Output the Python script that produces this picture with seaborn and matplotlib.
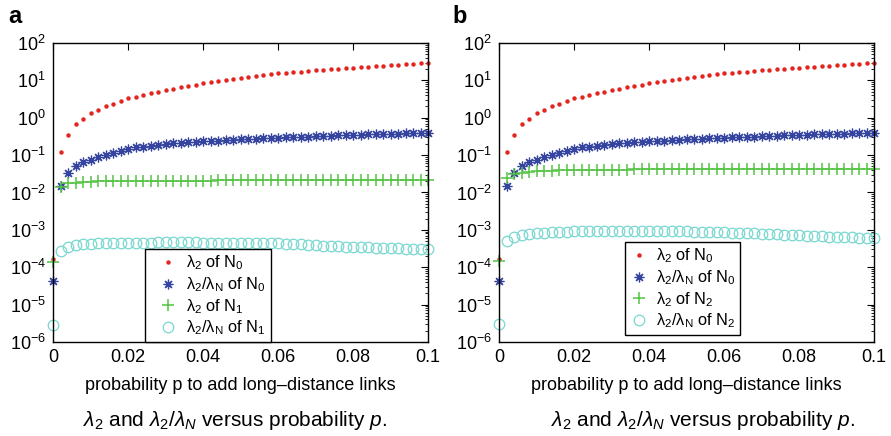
import numpy as np
import pandas as pd
import seaborn as sns
import matplotlib
matplotlib.use("Agg")
import matplotlib.pyplot as plt
from matplotlib.ticker import LogLocator, NullFormatter, NullLocator

# ---------------- data ----------------
p_values = [0.000, 0.002, 0.004, 0.006, 0.008, 0.010, 0.012, 0.014, 0.016, 0.018,
            0.020, 0.022, 0.024, 0.026, 0.028, 0.030, 0.032, 0.034, 0.036, 0.038,
            0.040, 0.042, 0.044, 0.046, 0.048, 0.050, 0.052, 0.054, 0.056, 0.058,
            0.060, 0.062, 0.064, 0.066, 0.068, 0.070, 0.072, 0.074, 0.076, 0.078,
            0.080, 0.082, 0.084, 0.086, 0.088, 0.090, 0.092, 0.094, 0.096, 0.098,
            0.100]

lam2_N0 = [1.7e-4, 0.12, 0.35, 0.66, 0.95, 1.3, 1.65, 2.0, 2.4, 2.85,
           3.3, 3.7, 4.1, 4.6, 5.0, 5.5, 6.0, 6.6, 7.1, 7.7,
           8.3, 8.9, 9.6, 10.2, 10.9, 11.6, 12.3, 13.0, 13.8, 14.6,
           15.4, 16.0, 16.6, 17.2, 17.8, 18.4, 19.0, 19.6, 20.3, 21.0,
           21.8, 22.5, 23.2, 23.9, 24.6, 25.3, 26.0, 26.8, 27.6, 28.5,
           29.5]

ratio_N0 = [4.3e-5, 0.0150, 0.033, 0.052, 0.064, 0.076, 0.088, 0.099, 0.112, 0.127,
            0.150, 0.160, 0.169, 0.178, 0.188, 0.197, 0.205, 0.212, 0.219, 0.226,
            0.233, 0.239, 0.245, 0.251, 0.257, 0.263, 0.269, 0.275, 0.281, 0.287,
            0.293, 0.299, 0.304, 0.310, 0.315, 0.320, 0.326, 0.331, 0.336, 0.342,
            0.347, 0.352, 0.357, 0.362, 0.368, 0.373, 0.378, 0.384, 0.389, 0.394,
            0.400]

lam2_N1 = [1.4e-4, 0.0143, 0.0176, 0.0184, 0.0190, 0.0194, 0.0197, 0.0199, 0.0201, 0.0202,
           0.0203, 0.0204, 0.0205, 0.0206, 0.0206, 0.0207, 0.0207, 0.0208, 0.0208, 0.0209,
           0.0209, 0.0209, 0.0210, 0.0210, 0.0210, 0.0211, 0.0211, 0.0211, 0.0211, 0.0212,
           0.0212, 0.0212, 0.0212, 0.0213, 0.0213, 0.0213, 0.0213, 0.0213, 0.0214, 0.0214,
           0.0214, 0.0214, 0.0214, 0.0215, 0.0215, 0.0215, 0.0215, 0.0215, 0.0216, 0.0216,
           0.0216]

ratio_N1 = [2.8e-6, 2.7e-4, 3.5e-4, 3.9e-4, 4.1e-4, 4.25e-4, 4.35e-4, 4.4e-4, 4.45e-4, 4.5e-4,
            4.52e-4, 4.55e-4, 4.57e-4, 4.58e-4, 4.6e-4, 4.6e-4, 4.6e-4, 4.6e-4, 4.6e-4, 4.6e-4,
            4.58e-4, 4.57e-4, 4.55e-4, 4.53e-4, 4.51e-4, 4.49e-4, 4.47e-4, 4.45e-4, 4.43e-4, 4.41e-4,
            4.38e-4, 4.3e-4, 4.2e-4, 4.1e-4, 4.0e-4, 3.9e-4, 3.8e-4, 3.72e-4, 3.64e-4, 3.57e-4,
            3.5e-4, 3.44e-4, 3.38e-4, 3.33e-4, 3.28e-4, 3.23e-4, 3.18e-4, 3.14e-4, 3.1e-4, 3.07e-4,
            3.05e-4]

lam2_N2 = [1.5e-4, 0.025, 0.031, 0.034, 0.036, 0.037, 0.038, 0.0385, 0.039, 0.0395,
           0.0398, 0.0401, 0.0403, 0.0405, 0.0407, 0.0409, 0.0411, 0.0412, 0.0413, 0.0414,
           0.0415, 0.0416, 0.0417, 0.0418, 0.0419, 0.0420, 0.0420, 0.0421, 0.0421, 0.0422,
           0.0422, 0.0423, 0.0423, 0.0423, 0.0424, 0.0424, 0.0424, 0.0425, 0.0425, 0.0425,
           0.0426, 0.0426, 0.0426, 0.0427, 0.0427, 0.0427, 0.0428, 0.0428, 0.0428, 0.0429,
           0.0429]

ratio_N2 = [3.0e-6, 4.9e-4, 6.3e-4, 7.2e-4, 7.8e-4, 8.2e-4, 8.5e-4, 8.7e-4, 8.85e-4, 8.95e-4,
            9.05e-4, 9.1e-4, 9.15e-4, 9.2e-4, 9.25e-4, 9.28e-4, 9.3e-4, 9.3e-4, 9.3e-4, 9.3e-4,
            9.3e-4, 9.28e-4, 9.25e-4, 9.2e-4, 9.15e-4, 9.1e-4, 9.0e-4, 8.9e-4, 8.8e-4, 8.7e-4,
            8.6e-4, 8.45e-4, 8.3e-4, 8.15e-4, 8.0e-4, 7.85e-4, 7.7e-4, 7.55e-4, 7.4e-4, 7.3e-4,
            7.2e-4, 7.05e-4, 6.9e-4, 6.75e-4, 6.6e-4, 6.5e-4, 6.4e-4, 6.3e-4, 6.2e-4, 6.1e-4,
            6.0e-4]

xticks = [0, 0.02, 0.04, 0.06, 0.08, 0.1]
xtick_labels = ["0", "0.02", "0.04", "0.06", "0.08", "0.1"]

labels_a = ["λ$_2$ of N$_0$", "λ$_2$/λ$_\\mathrm{N}$ of N$_0$",
            "λ$_2$ of N$_1$", "λ$_2$/λ$_\\mathrm{N}$ of N$_1$"]
labels_b = ["λ$_2$ of N$_0$", "λ$_2$/λ$_\\mathrm{N}$ of N$_0$",
            "λ$_2$ of N$_2$", "λ$_2$/λ$_\\mathrm{N}$ of N$_2$"]
xlabel_text = "probability p to add long\u2013distance links"
caption_text = r"$\lambda_2$ and $\lambda_2/\lambda_N$ versus probability $p$."

# ---------------- style ----------------
sns.set_style("white")
plt.rcParams["font.family"] = ["Liberation Sans", "DejaVu Sans"]
plt.rcParams["mathtext.fontset"] = "custom"
plt.rcParams["mathtext.rm"] = "Liberation Sans"
plt.rcParams["mathtext.it"] = "Liberation Sans:italic"
plt.rcParams["mathtext.bf"] = "Liberation Sans:bold"
plt.rcParams["axes.unicode_minus"] = True
for key in ["text.color", "axes.labelcolor", "xtick.color", "ytick.color", "axes.edgecolor"]:
    plt.rcParams[key] = "black"

RED = "#e3241f"
BLUE = "#34449f"
GREEN = "#55c444"
CYAN = "#78d8d0"

ASTER = (8, 2, 0)

df_a = pd.DataFrame({"p": p_values, "s1": lam2_N0, "s2": ratio_N0, "s3": lam2_N1, "s4": ratio_N1})
df_b = pd.DataFrame({"p": p_values, "s1": lam2_N0, "s2": ratio_N0, "s3": lam2_N2, "s4": ratio_N2})

fig = plt.figure(figsize=(8.91, 4.36), dpi=100)

W, H = 891.0, 436.0
ax_a = fig.add_axes([53 / W, 1 - 342 / H, 375 / W, 299 / H])
ax_b = fig.add_axes([499 / W, 1 - 342 / H, 375 / W, 299 / H])


def draw(ax, df, labels, leg_anchor, leg_hl, leg_htp):
    common = dict(linestyle="", clip_on=False, errorbar=None, ax=ax, legend=False)
    sns.lineplot(data=df, x="p", y="s1", marker="o", markersize=3.2,
                 markerfacecolor=RED, markeredgecolor=RED, markeredgewidth=0,
                 color=RED, label=labels[0], **common)
    sns.lineplot(data=df, x="p", y="s2", marker=ASTER, markersize=7,
                 markerfacecolor=BLUE, markeredgecolor=BLUE, markeredgewidth=0.9,
                 color=BLUE, label=labels[1], **common)
    sns.lineplot(data=df, x="p", y="s3", marker="+", markersize=8.5,
                 markeredgecolor=GREEN, markeredgewidth=1.1,
                 color=GREEN, label=labels[2], **common)
    sns.lineplot(data=df, x="p", y="s4", marker="o", markersize=7.6,
                 markerfacecolor="none", markeredgecolor=CYAN, markeredgewidth=0.9,
                 color=CYAN, label=labels[3], **common)

    ax.set_yscale("log")
    ax.set_ylim(1e-6, 1e2)
    ax.set_xlim(0, 0.1)
    ax.yaxis.set_major_locator(LogLocator(base=10, numticks=20))
    ax.yaxis.set_minor_locator(LogLocator(base=10, subs=np.arange(2, 10), numticks=100))
    ax.yaxis.set_minor_formatter(NullFormatter())
    ax.set_xticks(xticks, labels=xtick_labels)
    ax.xaxis.set_minor_locator(NullLocator())
    ax.set_xlabel(xlabel_text, fontsize=13, labelpad=8)
    ax.set_ylabel("")
    ax.tick_params(axis="both", which="major", direction="in", top=True, right=True,
                   length=5, width=0.8, labelsize=13, pad=5, color="black")
    ax.tick_params(axis="both", which="minor", direction="in", top=True, right=True,
                   length=2.5, width=0.6, color="black")
    for s in ax.spines.values():
        s.set_visible(True)
        s.set_color("black")
        s.set_linewidth(1.0)

    handles = ax.get_lines()[:4]
    leg = ax.legend(handles, labels, loc="lower left", bbox_to_anchor=leg_anchor,
                    bbox_transform=ax.transAxes, borderaxespad=0, numpoints=1,
                    fontsize=11.8, frameon=True, fancybox=False, framealpha=1,
                    edgecolor="black", handlelength=leg_hl, handletextpad=leg_htp,
                    labelspacing=0.18, borderpad=0.28)
    leg.get_frame().set_linewidth(1.0)
    leg.set_zorder(5)


draw(ax_a, df_a, labels_a, (92 / 375, 0.0), 2.3, -0.05)
draw(ax_b, df_b, labels_b, (126 / 375, 7 / 299), 1.2, 0.4)

fig.text(8 / W, 1 - 23 / H, "a", ha="left", va="baseline", fontsize=17, fontweight="bold")
fig.text(452 / W, 1 - 23 / H, "b", ha="left", va="baseline", fontsize=17, fontweight="bold")

fig.text(235 / W, 1 - 420 / H, caption_text, ha="center", va="center", fontsize=15)
fig.text(703 / W, 1 - 420 / H, caption_text, ha="center", va="center", fontsize=15)

fig.savefig("out.png", dpi=100)
